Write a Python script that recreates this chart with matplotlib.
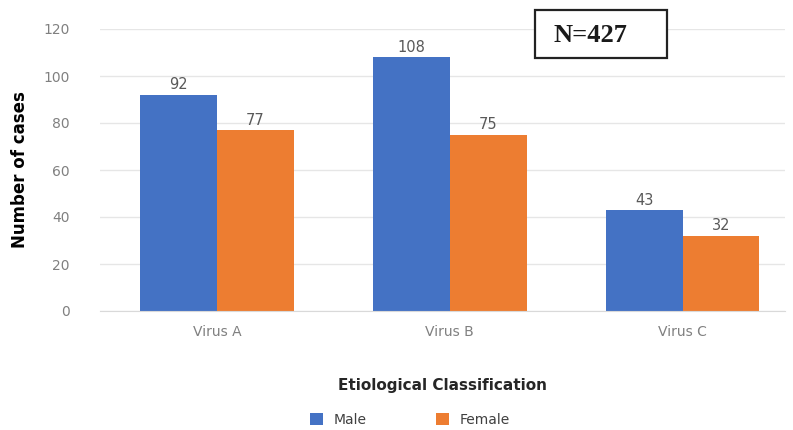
import matplotlib.pyplot as plt
from matplotlib.patches import Rectangle
import numpy as np

# chart data
categories = ["Virus A", "Virus B", "Virus C"]
male = [92, 108, 43]
female = [77, 75, 32]
yticks = [0, 20, 40, 60, 80, 100, 120]

fig = plt.figure(figsize=(7.93, 4.30), dpi=100)
ax = fig.add_axes([100 / 793, 119 / 430, 685 / 793, 282 / 430])

x = np.arange(len(categories))
w = 0.33
b1 = ax.bar(x - w / 2, male, w, color="#4472C4", label="Male")
b2 = ax.bar(x + w / 2, female, w, color="#ED7D31", label="Female")

for bars in (b1, b2):
    for rect in bars:
        ax.text(rect.get_x() + rect.get_width() / 2, rect.get_height() + 1,
                f"{rect.get_height():.0f}", ha="center", va="bottom",
                fontsize=10.5, color="#595959")

ax.set_xlim(-0.502, 2.44)
ax.set_ylim(0, 120)
ax.set_yticks(yticks)
ax.set_xticks(x)
ax.set_xticklabels(categories)
ax.tick_params(axis="both", length=0, labelsize=10, labelcolor="#808080")
ax.tick_params(axis="y", pad=22)
ax.tick_params(axis="x", pad=10)
ax.grid(axis="y", color="#e6e6e6", linewidth=1)
ax.set_axisbelow(True)
for s in ("top", "right", "left"):
    ax.spines[s].set_visible(False)
ax.spines["bottom"].set_color("#d9d9d9")

ax.set_ylabel("Number of cases", fontsize=12, fontweight="bold", labelpad=10)
ax.set_xlabel("Etiological Classification", fontsize=11, fontweight="bold",
              labelpad=28, color="#262626")

# N box
fig.patches.append(Rectangle((535 / 793, 1 - 58 / 430), 132 / 793, 48 / 430,
                             transform=fig.transFigure, fc="white",
                             ec="#222222", lw=1.6, zorder=5))
fig.text(553 / 793, 1 - 35 / 430, "N=427", family="Liberation Serif",
         fontsize=19, fontweight="bold", ha="left", va="center",
         color="#1a1a1a", zorder=6)

fig.legend(handles=[b1, b2], loc="center", bbox_to_anchor=(410 / 793, 10 / 430),
           ncol=2, frameon=False, fontsize=10, columnspacing=5,
           handlelength=0.9, handleheight=0.9, labelcolor="#404040")

fig.savefig("out.png", dpi=100)
